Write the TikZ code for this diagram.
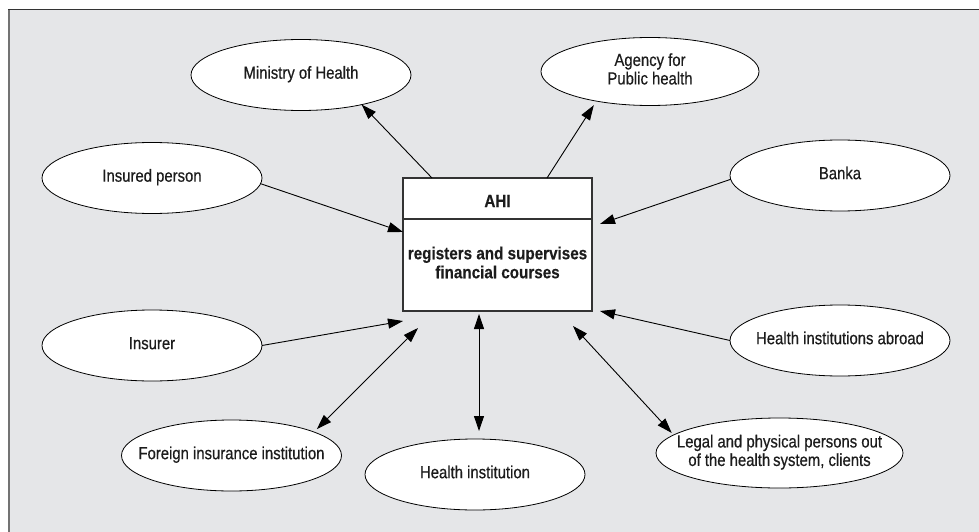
\documentclass[tikz,border=0pt]{standalone}
\usepackage{fontspec}
\setmainfont{Liberation Sans}[FakeStretch=0.85,FakeBold=0.5]
\newfontfamily\boxfont{Liberation Sans}[FakeStretch=0.87,BoldFeatures={FakeBold=0.3}]
\usetikzlibrary{shapes.geometric,arrows.meta}
\definecolor{panel}{RGB}{229,230,232}
\definecolor{ink}{RGB}{28,28,28}
% zero-width, centred label so the ellipse keeps its fixed size
\newcommand\elltext[1]{\makebox[0pt]{\begin{tabular}{@{}c@{}}#1\end{tabular}}}
\begin{document}
\begin{tikzpicture}[x=1pt,y=-1pt,
  every node/.style={outer sep=0pt, text=ink, font=\fontsize{17.5}{18.5}\selectfont},
  ell/.style={ellipse, draw=black, line width=0.8pt, fill=white,
    minimum width=220pt, minimum height=71pt, inner sep=0pt},
  boxst/.style={rectangle, draw=ink!90, line width=1.2pt, fill=white, inner sep=0pt},
  bold/.style={font=\boxfont\bfseries\fontsize{17.5}{19}\selectfont, align=center},
  arr/.style={-{Triangle[length=15pt,width=10pt]}, line width=0.9pt, draw=black},
  darr/.style={{Triangle[length=15pt,width=10pt]}-{Triangle[length=15pt,width=10pt]}, line width=0.9pt, draw=black}]
\useasboundingbox (0,0) rectangle (979,532);
% panel with its top and left rule
\fill[white] (0,0) rectangle (979,532);
\fill[panel] (8,9) rectangle (979,532);
\draw[line width=1.8pt, color=black!55] (8.9,9) -- (8.9,532);
\draw[line width=1.6pt, color=black!80] (8,9.6) -- (979,9.6);

% central box
\node[boxst, minimum width=189pt, minimum height=133pt] (ahi) at (497.5,244.5) {};
\draw[line width=1.2pt, draw=ink!90] ([yshift=-41pt]ahi.north west) -- ([yshift=-41pt]ahi.north east);
\node[bold] (ahititle) at (497.5,201) {AHI};
\node[bold] (ahibody) at (497.5,262.5) {registers and supervises\\financial courses};

% surrounding parties
\node[ell] (min) at (301,75) {\elltext{Ministry of Health}};
\node[ell, minimum width=218pt, minimum height=68pt] (age) at (650,71.5) {\elltext{Agency for\\Public health}};
\node[ell] (ins) at (152,178) {\elltext{Insured person}};
\node[ell] (bank) at (840,175.5) {\elltext{Banka}};
\node[ell] (insr) at (152,345.5) {\elltext{Insurer}};
\node[ell] (abr) at (840,340.5) {\elltext{Health institutions abroad}};
\node[ell] (for) at (231.5,455.5) {\elltext{Foreign insurance institution}};
\node[ell] (hin) at (475,474.5) {\elltext{Health institution}};
\node[ell, minimum width=247pt, minimum height=70pt] (leg) at (779.5,453) {\elltext{Legal and physical persons out\\of the health\,system, clients}};

% connectors
\draw[arr] ([xshift=29pt]ahi.north west) -- (min.-26);
\draw[arr] ([xshift=-45pt]ahi.north east) -- ([shift={(-6pt,-3.5pt)}]age.211);
\draw[arr] (ins.-3) -- ([yshift=-54pt]ahi.north west);
\draw[arr] (bank.182) -- ([shift={(8pt,-46pt)}]ahi.north east);
\draw[arr] (abr.west) -- ([xshift=8pt]ahi.south east);
\draw[arr] (insr.east) -- ([yshift=-10pt]ahi.south west);
\draw[darr] ([shift={(15pt,-17pt)}]ahi.south west) -- ([shift={(5.5pt,2pt)}]for.17);
\draw[darr] ([shift={(-18.5pt,-3pt)}]ahi.south) -- ([shift={(4pt,8pt)}]hin.north);
\draw[darr] ([shift={(-19pt,-15pt)}]ahi.south east) -- ([yshift=3pt]leg.171);
\end{tikzpicture}
\end{document}
